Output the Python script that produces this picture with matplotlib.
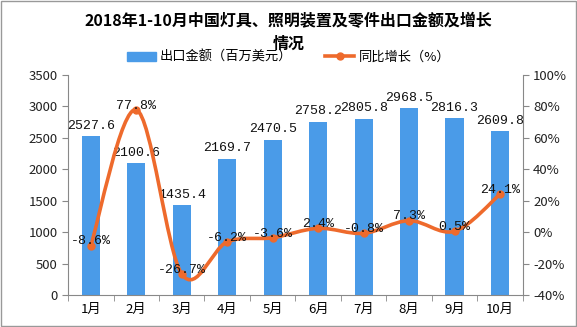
import numpy as np
import matplotlib.pyplot as plt
from matplotlib.path import Path
from matplotlib.patches import PathPatch, Rectangle
from matplotlib.lines import Line2D

plt.rcParams['font.family'] = ['Noto Sans CJK SC', 'DejaVu Sans']

months = ['1月', '2月', '3月', '4月', '5月', '6月', '7月', '8月', '9月', '10月']
export_value = [2527.6, 2100.6, 1435.4, 2169.7, 2470.5, 2758.2, 2805.8, 2968.5, 2816.3, 2609.8]
growth = [-8.6, 77.8, -26.7, -6.2, -3.6, 2.4, -0.8, 7.3, 0.5, 24.1]

bar_color = '#4A9BE8'
line_color = '#EE6A2C'
axis_color = '#888888'
label_font = ['Liberation Mono', 'DejaVu Sans Mono']

fig = plt.figure(figsize=(5.77, 3.27), dpi=100)
ax = fig.add_axes([0.118, 0.098, 0.788, 0.673])
ax2 = ax.twinx()

x = np.arange(len(months))
ax.bar(x, export_value, width=0.4, color=bar_color, zorder=2)
for xi, v in zip(x, export_value):
    ax.annotate('%.1f' % v, (xi, v), xytext=(0, 3), textcoords='offset points',
                ha='center', va='bottom', fontsize=9.5, color='#111111', family=label_font)

ax.set_ylim(0, 3500)
ax.set_yticks(range(0, 3501, 500))
ax.set_xlim(-0.5, len(months) - 0.5)
ax.set_xticks(x)
ax.set_xticklabels(months)
ax.set_xticks(np.arange(-0.5, len(months), 1), minor=True)
ax.tick_params(axis='x', which='major', length=0, labelsize=9.5, pad=6)
ax.tick_params(axis='x', which='minor', length=4, color=axis_color)
ax.tick_params(axis='y', length=4, color=axis_color, labelsize=9.5, labelcolor='#222222')

# smooth growth line (Catmull-Rom -> bezier)
pts = np.column_stack([x, growth]).astype(float)
verts = [tuple(pts[0])]
codes = [Path.MOVETO]
for i in range(len(pts) - 1):
    p0 = pts[i - 1] if i > 0 else pts[i]
    p1, p2 = pts[i], pts[i + 1]
    p3 = pts[i + 2] if i + 2 < len(pts) else pts[i + 1]
    c1 = p1 + (p2 - p0) / 6.0
    c2 = p2 - (p3 - p1) / 6.0
    verts += [tuple(c1), tuple(c2), tuple(p2)]
    codes += [Path.CURVE4] * 3
ax2.add_patch(PathPatch(Path(verts, codes), facecolor='none', edgecolor=line_color,
                        lw=2.6, zorder=3))
ax2.plot(x, growth, 'o', color=line_color, ms=5, zorder=4)
for xi, g in zip(x, growth):
    ax2.annotate('%.1f%%' % g, (xi, g), xytext=(0, 3), textcoords='offset points',
                 ha='center', va='center', fontsize=9.5, color='#111111', zorder=5,
                 family=label_font)

ax2.set_ylim(-40, 100)
ax2.set_yticks(range(-40, 101, 20))
ax2.set_yticklabels(['%d%%' % t for t in range(-40, 101, 20)])
ax2.tick_params(axis='y', length=4, color=axis_color, labelsize=9.5, labelcolor='#222222')

for a in (ax, ax2):
    a.spines['top'].set_visible(False)
    for s in ('left', 'right', 'bottom'):
        a.spines[s].set_color(axis_color)
ax.spines['right'].set_visible(False)
ax2.spines['left'].set_visible(False)
ax2.spines['bottom'].set_visible(False)

fig.text(0.5, 0.935, '2018年1-10月中国灯具、照明装置及零件出口金额及增长', ha='center',
         va='center', fontsize=11.5, fontweight='bold')
fig.text(0.5, 0.865, '情况', ha='center', va='center', fontsize=11.5, fontweight='bold')

handles = [Rectangle((0, 0), 1, 1, color=bar_color),
           Line2D([], [], color=line_color, lw=2.6, marker='o', ms=5)]
fig.legend(handles, ['出口金额（百万美元）', '同比增长（%）'], loc='center',
           bbox_to_anchor=(0.5, 0.825), ncol=2, frameon=False, fontsize=9.5,
           handlelength=2.2, columnspacing=2.5, handletextpad=0.3)

fig.patches.append(Rectangle((0.002, 0.003), 0.996, 0.994, transform=fig.transFigure,
                             fill=False, edgecolor='#999999', lw=1))

fig.savefig('out.png', dpi=100)
